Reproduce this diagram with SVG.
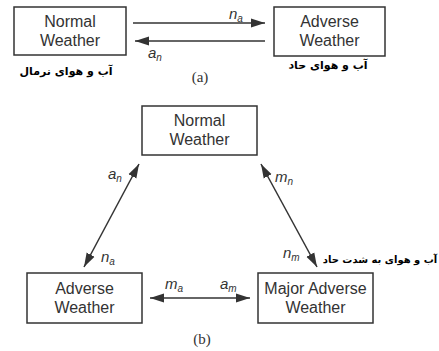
<svg xmlns="http://www.w3.org/2000/svg" width="439" height="351" viewBox="0 0 439 351">
<style>
.box{fill:#fff;stroke:#333;stroke-width:1.5}
.t{font-family:"Liberation Sans",Arial,sans-serif;font-size:16px;fill:#333;text-anchor:middle}
.lbl{font-family:"Liberation Sans",Arial,sans-serif;font-size:15px;font-style:italic;fill:#333}
.sub{font-size:10px}
.fa{font-family:"DejaVu Sans","Noto Sans",sans-serif;font-size:11px;font-weight:bold;fill:#000;text-anchor:middle}
.cap{font-family:"Liberation Serif","Times New Roman",serif;font-size:15px;fill:#333;text-anchor:middle}
.ln{stroke:#333;stroke-width:1.5;fill:none}
</style>
<defs>
<marker id="ah2" viewBox="0 0 14 10" refX="14" refY="5" markerWidth="14" markerHeight="10" markerUnits="userSpaceOnUse" orient="auto-start-reverse">
<path d="M0,0.5 L14,5 L0,9.5 z" fill="#333"/>
</marker>
</defs>
<g id="connectors">
<line class="ln" x1="133" y1="23" x2="265" y2="23" marker-end="url(#ah2)"/>
<line class="ln" x1="265" y1="41" x2="135" y2="41" marker-end="url(#ah2)"/>
<line class="ln" x1="84" y1="267" x2="139" y2="164" marker-start="url(#ah2)" marker-end="url(#ah2)"/>
<line class="ln" x1="317" y1="267" x2="261" y2="164" marker-start="url(#ah2)" marker-end="url(#ah2)"/>
<line class="ln" x1="150" y1="298" x2="250" y2="298" marker-start="url(#ah2)" marker-end="url(#ah2)"/>
</g>
<g id="labels">
<text class="lbl" x="229" y="19">n<tspan class="sub" dy="3">a</tspan></text>
<text class="lbl" x="148" y="58">a<tspan class="sub" dy="3">n</tspan></text>
<text class="lbl" x="108" y="179">a<tspan class="sub" dy="3">n</tspan></text>
<text class="lbl" x="275" y="182">m<tspan class="sub" dy="3">n</tspan></text>
<text class="lbl" x="101" y="262">n<tspan class="sub" dy="3">a</tspan></text>
<text class="lbl" x="283" y="258">n<tspan class="sub" dy="3">m</tspan></text>
<text class="lbl" x="165" y="289">m<tspan class="sub" dy="3">a</tspan></text>
<text class="lbl" x="220" y="289">a<tspan class="sub" dy="3">m</tspan></text>
<text class="fa" x="66" y="75" direction="rtl">آب و هوای نرمال</text>
<text class="fa" x="328" y="69" direction="rtl">آب و هوای حاد</text>
<text class="fa" x="380" y="263" direction="rtl" style="font-size:10px">آب و هوای به شدت حاد</text>
<text class="cap" x="200" y="82">(a)</text>
<text class="cap" x="202" y="344">(b)</text>
</g>
<g id="normal-a">
<rect class="box" x="14" y="7" width="112" height="48"/>
<text class="t" x="70" y="27">Normal</text>
<text class="t" x="70" y="46">Weather</text>
</g>
<g id="adverse-a">
<rect class="box" x="274" y="7" width="111" height="49"/>
<text class="t" x="329.5" y="27">Adverse</text>
<text class="t" x="329.5" y="46">Weather</text>
</g>
<g id="normal-b">
<rect class="box" x="142" y="106" width="115" height="49"/>
<text class="t" x="199.5" y="126">Normal</text>
<text class="t" x="199.5" y="145">Weather</text>
</g>
<g id="adverse-b">
<rect class="box" x="27" y="273" width="115" height="50"/>
<text class="t" x="84.5" y="294">Adverse</text>
<text class="t" x="84.5" y="313">Weather</text>
</g>
<g id="major-b">
<rect class="box" x="258" y="273" width="115" height="50"/>
<text class="t" x="315.5" y="294">Major Adverse</text>
<text class="t" x="315.5" y="313">Weather</text>
</g>
</svg>
